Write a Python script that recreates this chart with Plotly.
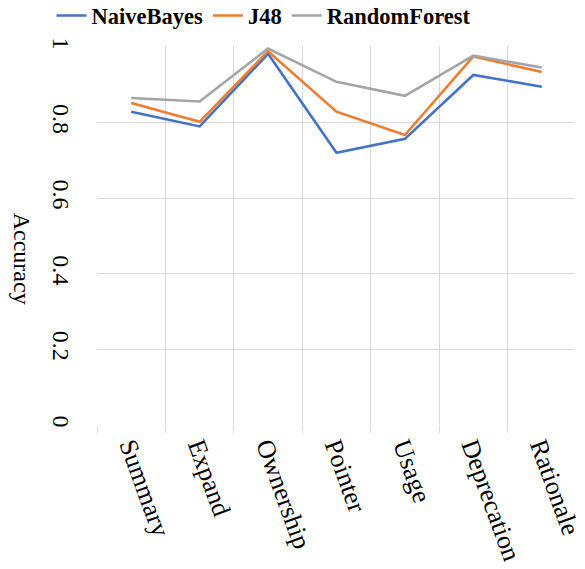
import plotly.graph_objects as go

# Classification accuracy per comment category
categories = ["Summary", "Expand", "Ownership", "Pointer", "Usage", "Deprecation", "Rationale"]
naive_bayes = [0.829, 0.790, 0.982, 0.720, 0.757, 0.926, 0.895]
j48 = [0.852, 0.802, 0.989, 0.829, 0.767, 0.975, 0.934]
random_forest = [0.865, 0.856, 0.996, 0.908, 0.871, 0.977, 0.946]

FONT = "Liberation Serif"
GRID = "#d9d9d9"

fig = go.Figure()
for name, vals, color in [
    ("NaiveBayes", naive_bayes, "#4472C4"),
    ("J48", j48, "#ED7D31"),
    ("RandomForest", random_forest, "#A5A5A5"),
]:
    fig.add_trace(go.Scatter(
        x=categories, y=vals, name=name, mode="lines",
        line=dict(color=color, width=2.6),
    ))

fig.update_layout(
    width=585, height=569,
    margin=dict(l=97, r=0, t=44, b=144),
    paper_bgcolor="white", plot_bgcolor="white",
    font=dict(family=FONT, color="black"),
    showlegend=True,
    legend=dict(
        orientation="h", xref="container", yref="container",
        x=0.088, xanchor="left", y=0.972, yanchor="middle",
        font=dict(family=FONT, size=22.5, color="black", weight="bold"),
        itemwidth=30, tracegroupgap=0, bgcolor="rgba(0,0,0,0)",
    ),
)

fig.update_xaxes(
    type="category", range=[-0.5, 6.471],
    tickson="boundaries", ticks="outside", ticklen=7, tickcolor=GRID,
    showgrid=True, gridcolor=GRID, gridwidth=1,
    showline=False, zeroline=False,
    tickangle=70, tickfont=dict(family=FONT, size=26, color="black"),
)
fig.update_yaxes(
    range=[0, 1.002], dtick=0.2, tick0=0,
    showgrid=True, gridcolor=GRID, gridwidth=1,
    showline=False, zeroline=False,
    ticks="outside", ticklen=14, tickcolor="rgba(0,0,0,0)",
    tickangle=90, tickfont=dict(family=FONT, size=24, color="black"),
)

fig.add_annotation(
    text="Accuracy", textangle=90, showarrow=False,
    xref="paper", yref="paper", x=-0.158, y=0.44,
    xanchor="center", yanchor="middle",
    font=dict(family=FONT, size=24, color="black"),
)

fig.write_html("out.html")
